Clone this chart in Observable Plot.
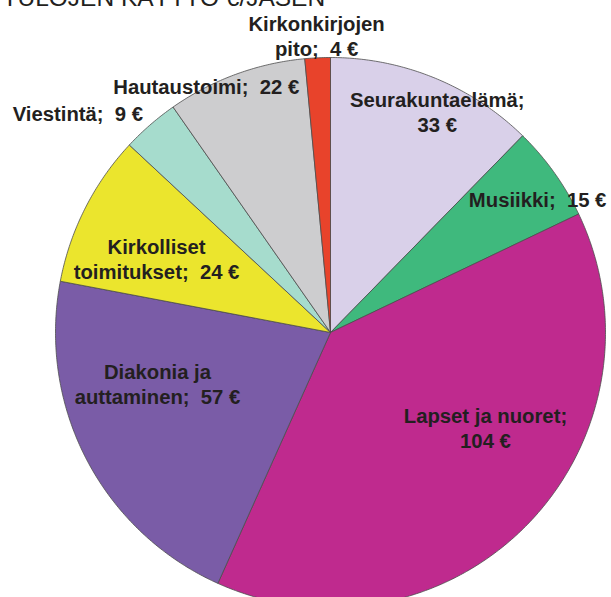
<!DOCTYPE html>
<html>
<head>
<meta charset="utf-8">
<script src="https://cdn.jsdelivr.net/npm/d3@7"></script>
<script src="https://cdn.jsdelivr.net/npm/@observablehq/plot@0.6"></script>
<style>
  html, body { margin: 0; padding: 0; background: #fff; }
  #chart { width: 611px; height: 597px; overflow: hidden; }
  #chart svg { display: block; }
</style>
</head>
<body>
<div id="chart"></div>
<script>
// ---- data ----
const title = "TULOJEN KÄYTTÖ €/JÄSEN";
const categories = ["Seurakuntaelämä", "Musiikki", "Lapset ja nuoret", "Diakonia ja auttaminen",
  "Kirkolliset toimitukset", "Viestintä", "Hautaustoimi", "Kirkonkirjojen pito"];
const values = [33, 15, 104, 57, 24, 9, 22, 4];
const labels = ["Seurakuntaelämä;\n33 €", "Musiikki;\u00a0 15 €", "Lapset ja nuoret;\n104 €",
  "Diakonia ja\nauttaminen;\u00a0 57 €", "Kirkolliset\ntoimitukset;\u00a0 24 €", "Viestintä;\u00a0 9 €",
  "Hautaustoimi;\u00a0 22 €", "Kirkonkirjojen\npito;\u00a0 4 €"];
const colors = ["#d9d0e9", "#3fb97d", "#bf2a8e", "#7a5ca7", "#ebe52d", "#a6dccd", "#cdcdcf", "#e8432b"];
// label placement: radius (fraction of pie radius) and angular offset (deg) from slice middle
const labelRadius = [0.893, 0.897, 0.661, 0.656, 0.687, 1.218, 1.004, 1.081];
const labelAngleOffset = [3.6, 2.7, -12.8, 11.1, -3.9, -8, -6.6, 0];

// ---- geometry from data ----
const pie = d3.pie().sort(null).value(d => d)(values);
const slicePoints = [];
const labelData = [];
pie.forEach((p, i) => {
  const a0 = p.startAngle, a1 = p.endAngle;
  const n = Math.max(2, Math.ceil((a1 - a0) / (Math.PI / 360)));
  slicePoints.push({cat: categories[i], x: 0, y: 0});
  for (let k = 0; k <= n; k++) {
    const a = a0 + (a1 - a0) * k / n;
    slicePoints.push({cat: categories[i], x: Math.sin(a), y: Math.cos(a)});
  }
  slicePoints.push({cat: categories[i], x: 0, y: 0});
  const am = (a0 + a1) / 2 + labelAngleOffset[i] * Math.PI / 180;
  labelData.push({label: labels[i], x: labelRadius[i] * Math.sin(am), y: labelRadius[i] * Math.cos(am)});
});

const R = 275, cx = 330, cy = 332;
const chart = Plot.plot({
  width: 611,
  height: 597,
  margin: 0,
  x: {domain: [-1, 1], range: [cx - R, cx + R], axis: null},
  y: {domain: [-1, 1], range: [cy + R, cy - R], axis: null},
  color: {type: "ordinal", domain: categories, range: colors},
  style: {fontFamily: "'Liberation Sans', Arial, sans-serif", background: "#fff"},
  marks: [
    Plot.line(slicePoints, {
      x: "x", y: "y", z: "cat", fill: "cat", stroke: "#4d4d4d", strokeWidth: 0.8,
      curve: "linear", strokeLinejoin: "round",
      style: "filter: drop-shadow(1px 2px 2px rgba(0,0,0,0.25))"
    }),
    Plot.text(labelData, {
      x: "x", y: "y", text: "label", fontSize: 20.3, fontWeight: "bold",
      fill: "#231f20", lineHeight: 1.24, textAnchor: "middle"
    }),
    Plot.text([title], {
      frameAnchor: "top-left", text: d => d, textAnchor: "start", lineAnchor: "bottom",
      dx: 2, dy: 5, fontSize: 24.5, fill: "#231f20"
    })
  ]
});
document.getElementById("chart").appendChild(chart);
</script>
</body>
</html>
